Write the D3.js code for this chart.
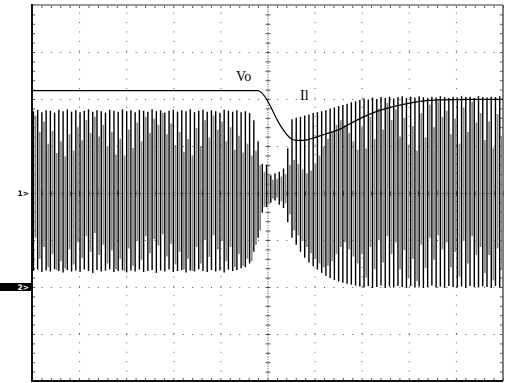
<!DOCTYPE html>
<html><head><meta charset="utf-8">
<script src="https://cdn.jsdelivr.net/npm/d3@7"></script>
<style>html,body{margin:0;padding:0;background:#fff;} svg{display:block;}</style>
</head><body>
<svg id="c" width="505" height="383"></svg>
<script>
// ---------------- data (screen divisions) ----------------
const xDivisions = 10;
const yDivisions = 8;
const cycleStart = 0.03;      // div, first switching cycle
const cyclePeriod = 0.09;     // div per switching cycle

// Vo trace (time in div, level in div)
const voTime  = [0, 4.80, 4.88, 4.99, 5.10, 5.22, 5.35, 5.48, 5.61, 5.76, 5.94, 6.22, 6.54, 6.90, 7.28, 7.81, 8.24, 8.66, 9.30, 10];
const voLevel = [2.18, 2.18, 2.13, 1.98, 1.77, 1.53, 1.32, 1.17, 1.12, 1.12, 1.16, 1.25, 1.36, 1.55, 1.72, 1.87, 1.95, 1.98, 1.99, 1.99];

// Il trace: per switching cycle peaks (strong ramp)
const ilTop = [
 1.74,1.77,1.72,1.76,1.75,1.71,1.77,1.74,1.78,1.73,
 1.76,1.72,1.75,1.78,1.73,1.76,1.74,1.71,1.77,1.75,
 1.73,1.78,1.74,1.76,1.72,1.77,1.75,1.73,1.78,1.74,
 1.76,1.71,1.75,1.77,1.73,1.76,1.74,1.78,1.72,1.75,
 1.77,1.73,1.76,1.74,1.71,1.77,1.75,1.73,1.76,1.72,
 1.74,1.70,1.55,1.10,
 0.62,0.60,0.38,0.42,0.45,0.52,0.95,
 1.57,1.60,1.62,1.65,1.67,1.70,1.72,1.74,1.76,1.80,1.82,1.85,1.87,1.90,1.93,1.95,
 1.98,2.01,1.99,2.03,2.00,2.04,2.02,2.05,2.01,2.04,
 2.06,2.02,2.05,2.03,2.06,2.04,2.02,2.05,2.03,2.06,
 2.04,2.02,2.05,2.03,2.06,2.04,2.05,2.02,2.06,2.04,
 2.03,2.05,2.04,2.06];
const ilBottom = [
 -1.66,-1.63,-1.68,-1.65,-1.67,-1.62,-1.66,-1.69,-1.64,-1.67,
 -1.65,-1.68,-1.63,-1.66,-1.70,-1.64,-1.67,-1.65,-1.62,-1.68,
 -1.66,-1.64,-1.69,-1.65,-1.67,-1.63,-1.68,-1.66,-1.64,-1.70,
 -1.65,-1.67,-1.63,-1.68,-1.66,-1.64,-1.69,-1.65,-1.67,-1.62,
 -1.66,-1.68,-1.64,-1.67,-1.65,-1.69,-1.63,-1.66,-1.64,-1.60,
 -1.58,-1.50,-1.25,-0.95,
 -0.42,-0.30,-0.20,-0.16,-0.25,-0.32,-0.62,
 -0.95,-1.10,-1.25,-1.38,-1.48,-1.56,-1.63,-1.70,-1.76,-1.81,-1.85,-1.88,-1.91,-1.93,-1.95,-1.97,
 -1.99,-2.01,-1.98,-2.02,-2.00,-1.97,-2.02,-1.99,-2.01,-1.98,
 -2.00,-2.02,-1.98,-2.01,-1.99,-2.02,-2.00,-1.97,-2.01,-1.99,
 -2.02,-1.98,-2.00,-2.01,-1.99,-2.02,-1.98,-2.00,-2.01,-1.99,
 -2.00,-2.02,-1.98,-2.01];
// Il trace: per switching cycle (faint ramp, aliased)
const ilTopFaint = [
 1.65,1.30,1.52,1.05,1.32,0.85,1.10,0.78,1.25,0.90,
 1.40,1.12,1.55,1.28,1.62,1.20,1.45,0.98,1.30,0.82,
 1.15,0.80,1.35,0.95,1.50,1.10,1.62,1.28,1.58,1.45,
 1.70,1.25,1.48,1.02,1.30,0.88,1.15,0.80,1.38,1.00,
 1.55,1.18,1.65,1.35,1.52,1.10,1.40,0.92,1.22,0.86,
 1.05,0.80,0.90,0.60,
 0.45,0.40,0.28,0.30,0.35,0.40,0.60,
 0.70,0.62,0.50,0.42,0.48,0.62,0.80,0.98,1.15,1.30,1.45,1.55,1.45,1.28,1.10,0.92,
 1.40,0.95,1.62,1.15,1.80,1.35,1.92,1.55,1.78,1.20,
 1.60,1.02,1.42,0.90,1.70,1.18,1.88,1.40,1.95,1.62,
 1.75,1.25,1.58,1.05,1.82,1.30,1.94,1.50,1.70,1.12,
 1.52,0.96,1.68,1.20];
const ilBottomFaint = [
 -0.95,-1.40,-1.15,-1.58,-1.30,-1.64,-1.45,-1.60,-1.20,-1.52,
 -1.05,-1.38,-0.92,-1.25,-0.85,-1.32,-1.10,-1.50,-1.22,-1.62,
 -1.40,-1.66,-1.18,-1.55,-1.02,-1.42,-0.92,-1.28,-0.98,-1.12,
 -0.88,-1.35,-1.08,-1.52,-1.25,-1.62,-1.40,-1.66,-1.15,-1.50,
 -1.00,-1.36,-0.90,-1.20,-1.02,-1.45,-1.15,-1.58,-1.30,-1.55,
 -1.40,-1.45,-1.10,-0.80,
 -0.30,-0.22,-0.12,-0.10,-0.18,-0.22,-0.45,
 -0.80,-0.90,-1.02,-1.15,-1.28,-1.40,-1.50,-1.58,-1.55,-1.45,-1.30,-1.15,-1.05,-1.20,-1.35,-1.50,
 -1.30,-1.80,-1.15,-1.62,-1.00,-1.48,-0.92,-1.30,-1.05,-1.62,
 -1.22,-1.82,-1.40,-1.88,-1.10,-1.60,-0.95,-1.42,-0.90,-1.20,
 -1.05,-1.58,-1.25,-1.78,-1.02,-1.50,-0.92,-1.32,-1.15,-1.70,
 -1.32,-1.86,-1.18,-1.64];

const channelLabels = ["1>", "2>"];
const channelLevels = [0, -2];
const traceLabels = ["Vo", "Il"];

// ---------------- drawing ----------------
const svg = d3.select("#c");
const L = 32, R = 503, T = 5, B = 381;
const x = d3.scaleLinear().domain([0, xDivisions]).range([L, R]);
const y = d3.scaleLinear().domain([-yDivisions/2, yDivisions/2]).range([B, T]);
const minor = d3.range(0, xDivisions + 0.001, 0.2).map(v => +v.toFixed(2));
const minorY = d3.range(-yDivisions/2, yDivisions/2 + 0.001, 0.2).map(v => +v.toFixed(2));

const gridColor = "#555";
function styleAxis(g, dash) {
  g.select(".domain").remove();
  g.selectAll(".tick line").attr("stroke", gridColor).attr("stroke-width", 1)
    .attr("stroke-dasharray", dash || null);
  g.selectAll("text").remove();
}
// major grid (dotted)
svg.append("g").attr("transform", `translate(0,${B})`)
  .call(d3.axisBottom(x).tickValues([1,2,3,4,6,7,8,9]).tickSize(-(B - T)).tickFormat(""))
  .call(g => styleAxis(g, "1 8.42"));
svg.append("g").attr("transform", `translate(${L},0)`)
  .call(d3.axisLeft(y).tickValues([-3,-2,-1,1,2,3]).tickSize(-(R - L)).tickFormat(""))
  .call(g => styleAxis(g, "1 8.42"));
// center lines (dense dots)
svg.append("g").attr("transform", `translate(0,${B})`)
  .call(d3.axisBottom(x).tickValues([5]).tickSize(-(B - T)).tickFormat(""))
  .call(g => styleAxis(g, "1 1.35"));
svg.append("g").attr("transform", `translate(${L},0)`)
  .call(d3.axisLeft(y).tickValues([0]).tickSize(-(R - L)).tickFormat(""))
  .call(g => styleAxis(g, "1 1.35"));
// center-line minor ticks
svg.append("g").attr("transform", `translate(0,${y(0) - 2})`)
  .call(d3.axisBottom(x).tickValues(minor).tickSize(5).tickFormat(""))
  .call(g => styleAxis(g));
svg.append("g").attr("transform", `translate(${x(5) - 2},0)`)
  .call(d3.axisRight(y).tickValues(minorY).tickSize(5).tickFormat(""))
  .call(g => styleAxis(g));
// edge minor ticks
svg.append("g").attr("transform", `translate(0,${T})`)
  .call(d3.axisBottom(x).tickValues(minor).tickSize(3).tickFormat("")).call(g => styleAxis(g));
svg.append("g").attr("transform", `translate(0,${B})`)
  .call(d3.axisTop(x).tickValues(minor).tickSize(3).tickFormat("")).call(g => styleAxis(g));
svg.append("g").attr("transform", `translate(${L},0)`)
  .call(d3.axisRight(y).tickValues(minorY).tickSize(3).tickFormat("")).call(g => styleAxis(g));
svg.append("g").attr("transform", `translate(${R},0)`)
  .call(d3.axisLeft(y).tickValues(minorY).tickSize(3).tickFormat("")).call(g => styleAxis(g));

// frame
svg.append("line").attr("x1", L).attr("x2", R).attr("y1", T).attr("y2", T).attr("stroke", "#999").attr("stroke-width", 2);
svg.append("line").attr("x1", R).attr("x2", R).attr("y1", T).attr("y2", B).attr("stroke", "#555").attr("stroke-width", 1.5);
svg.append("line").attr("x1", L).attr("x2", L).attr("y1", T - 1).attr("y2", B + 1).attr("stroke", "#111").attr("stroke-width", 2);
svg.append("line").attr("x1", L).attr("x2", R).attr("y1", B).attr("y2", B).attr("stroke", "#111").attr("stroke-width", 2);

// Il spikes
const cycles = ilTop.map((t, i) => ({
  t: cycleStart + i * cyclePeriod,
  top: t, bot: ilBottom[i], ftop: ilTopFaint[i], fbot: ilBottomFaint[i]
}));
const spikes = svg.append("g");
spikes.selectAll("line.faint").data(cycles).join("line").attr("class", "faint")
  .attr("x1", d => x(d.t + cyclePeriod / 2)).attr("x2", d => x(d.t + cyclePeriod / 2))
  .attr("y1", d => y(d.ftop)).attr("y2", d => y(d.fbot))
  .attr("stroke", "#888").attr("stroke-width", 1.7);
spikes.selectAll("line.strong").data(cycles).join("line").attr("class", "strong")
  .attr("x1", d => x(d.t)).attr("x2", d => x(d.t))
  .attr("y1", d => y(d.top)).attr("y2", d => y(d.bot))
  .attr("stroke", "#000").attr("stroke-width", 1.4);

// Vo trace
const vo = voTime.map((t, i) => [t, voLevel[i]]);
svg.append("path").datum(vo)
  .attr("d", d3.line().x(d => x(d[0])).y(d => y(d[1])).curve(d3.curveMonotoneX))
  .attr("fill", "none").attr("stroke", "#000").attr("stroke-width", 1.2);

// trace labels
const labelFont = "'Liberation Serif', 'Times New Roman', serif";
svg.append("text").attr("x", x(4.33)).attr("y", y(2.39))
  .attr("font-family", labelFont).attr("font-size", 14).attr("fill", "#000")
  .text(traceLabels[0]);
svg.append("text").attr("x", x(5.69)).attr("y", y(1.98))
  .attr("font-family", labelFont).attr("font-size", 14).attr("fill", "#000")
  .text(traceLabels[1]);

// channel markers
const markers = svg.append("g").attr("font-family", "'DejaVu Sans', sans-serif")
  .attr("font-size", 7.5).attr("font-weight", "bold");
channelLabels.forEach((lab, i) => {
  const yy = y(channelLevels[i]);
  if (i === 1) {
    markers.append("rect").attr("x", 0).attr("y", yy - 4).attr("width", 31).attr("height", 8).attr("fill", "#000");
  }
  markers.append("text").attr("x", 29).attr("y", yy + 3).attr("text-anchor", "end")
    .attr("fill", i === 1 ? "#fff" : "#000").text(lab);
});
</script>
</body></html>
